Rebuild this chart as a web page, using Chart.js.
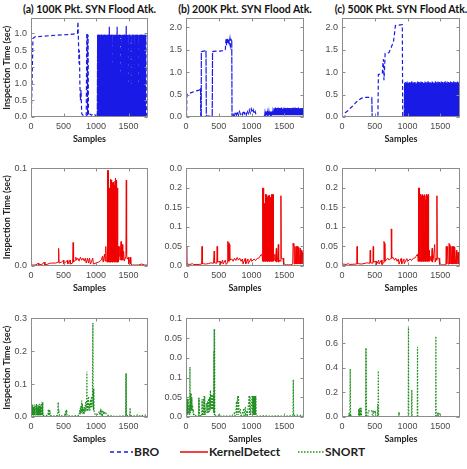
<!DOCTYPE html>
<html lang="en">
<head>
<meta charset="UTF-8">
<title>Inspection Time under SYN Flood</title>
<script src="https://cdn.jsdelivr.net/npm/chart.js"></script>
<style>
  body { margin:0; width:467px; height:469px; overflow:hidden; background:#fff; position:relative; }
  canvas { position:absolute; }
  .ttl { position:absolute; top:3px; width:170px; text-align:center; font:bold 10.5px Lato, sans-serif; color:#111; white-space:nowrap; line-height:12px; }
  .leg { position:absolute; top:445px; font:bold 12px Lato, sans-serif; color:#222; line-height:14px; white-space:nowrap; }
  .ls { position:absolute; top:450px; }
</style>
</head>
<body>
<div class="ttl" style="left:4.5px">(a) 100K Pkt. SYN Flood Atk.</div>
<div class="ttl" style="left:160px">(b) 200K Pkt. SYN Flood Atk.</div>
<div class="ttl" style="left:316px">(c) 500K Pkt. SYN Flood Atk.</div>

<svg class="ls" style="left:110px" width="23" height="4"><line x1="0" y1="2" x2="23" y2="2" stroke="#1a1ae6" stroke-width="1.5" stroke-dasharray="4 3"/></svg>
<div class="leg" style="left:134px">BRO</div>
<svg class="ls" style="left:180px" width="28" height="4"><line x1="0" y1="2" x2="28" y2="2" stroke="#f00000" stroke-width="1.5"/></svg>
<div class="leg" style="left:209px">KernelDetect</div>
<svg class="ls" style="left:298px" width="26" height="4"><line x1="0" y1="2" x2="26" y2="2" stroke="#1f8f1f" stroke-width="1.5" stroke-dasharray="1.5 1.5"/></svg>
<div class="leg" style="left:325px">SNORT</div>

<script>
// ---- data (sample index, inspection time) ----
const xMax = 1800;
const xTicks = [0, 500, 1000, 1500];

// tick labels as printed on each panel's y axis (bottom to top)
const yLabA1 = ['0.0', '0.5', '1.0', '0.0', '0.5', '1.0'];
const yLabB1 = ['0.0', '0.5', '1.0', '1.5', '2.0'];
const yLabC1 = ['0.0', '0.5', '1.0', '1.5', '2.0'];
const yLabA2 = ['0.0', '0.1'];
const yLabB2 = ['0.0', '0.05', '0.1', '0.15', '0.2', '0.0'];
const yLabC2 = ['0.0', '0.05', '0.1', '0.15', '0.2', '0.0'];
const yLabA3 = ['0.0', '0.1', '0.2', '0.3'];
const yLabB3 = ['0.0', '0.05', '0.1', '0.0', '0.05', '0.1'];
const yLabC3 = ['0.0', '0.2', '0.4', '0.6', '0.8'];

// BRO
const broA = [[0,0],[8,0.3],[30,2.35],[60,2.4],[200,2.42],[400,2.45],[600,2.47],[715,2.5],[722,2.85],[730,2.3],[738,1.6],[745,2.0],[752,1.0],[760,0.5],[770,0.8],[780,0.1],[800,0.05],[830,0.08],[850,0.05],[858,2.46],[866,2.48],[870,0.05],[878,2.46],[884,0.06],[900,0.1],[930,0.05],[960,0.1],[990,0.05],[1015,0.06]];
const broABlock = [2.46,2.45,2.47,2.46,2.44,2.46,2.47,2.45,2.46,2.46,
  2.45,2.47,2.46,2.44,2.46,2.45,2.46,2.47,2.7,2.46,
  2.45,2.46,2.47,1.5,2.46,2.45,2.46,2.44,2.46,2.47,
  2.7,2.46,2.45,2.46,2.47,2.46,1.2,2.45,2.46,2.46,
  2.45,2.47,2.46,2.45,2.72,2.46,2.45,1.0,2.46,2.47,
  2.46,2.45,0.9,2.46,2.47,2.45,2.46,1.4,2.46,2.45,
  2.46,2.47,2.45,1.0,2.46,2.45,2.46,2.47,2.46,2.45,
  2.46,2.45,2.46,2.44,2.46];
const broATail = [[1775,0.08],[1790,0.03],[1800,0.02]];

const broB = [[0,0],[8,0.02],[14,0.5],[40,0.52],[90,0.55],[150,0.58],[200,0.6],[222,0.64],[226,0.02],[232,0.02],[234,1.46],[270,1.47],[305,1.48],[310,0.02],[400,0.02],[405,1.46],[450,1.47],[520,1.47],[560,1.48],[600,1.5],[610,1.74],[620,1.6],[630,1.77],[640,1.62],[650,1.76],[660,1.65],[670,1.75],[680,1.6],[690,1.72],[698,1.7],[702,0.02],[715,0.01],[725,0.09],[740,0.03],[755,0.12],[770,0.05],[785,0.13],[800,0.04],[815,0.12],[830,0.06],[845,0.1],[860,0.05],[875,0.14],[890,0.07],[905,0.12],[920,0.05],[935,0.15],[950,0.08],[965,0.16],[980,0.09],[995,0.18],[1010,0.1],[1025,0.16],[1040,0.07],[1055,0.12],[1070,0.04],[1085,0.02],[1100,0.01],[1190,0.01]];
const broBBlock = [0.1,0.12,0.11,0.13,0.1,0.12,0.11,0.13,0.12,0.1,0.12,0.13,0.11,0.12,
  0.2,0.18,0.21,0.17,0.2,0.19,0.21,0.18,0.2,0.16,
  0.2,0.21,0.18,0.2,0.19,0.21,0.17,0.2,0.2,0.18,
  0.21,0.19,0.2,0.18,0.21,0.2,0.17,0.2,0.19,0.21,
  0.18,0.2,0.21,0.19,0.2,0.18,0.2,0.21,0.17,0.2,
  0.19,0.2,0.18,0.2,0.16];
const broBTail = [[1795,0.05],[1800,0.03]];

const broC = [[0,0],[45,0.01],[52,0.1],[90,0.14],[130,0.2],[175,0.26],[215,0.33],[255,0.38],[300,0.42],[350,0.44],[410,0.44],[455,0.44],[460,0.01],[548,0.01],[555,0.95],[590,0.96],[615,0.97],[625,1.22],[632,1.29],[640,0.82],[650,1.1],[658,1.42],[700,1.43],[718,1.44],[750,1.55],[785,1.68],[800,1.85],[815,2.04],[860,2.05],[920,2.06],[926,0.01],[945,0.02]];
const broCBlock = [0.76,0.78,0.75,0.77,0.79,0.76,0.74,0.78,0.77,0.75,
  0.78,0.8,0.76,0.77,0.75,0.79,0.78,0.76,0.74,0.77,
  0.79,0.76,0.78,0.75,0.77,0.8,0.76,0.78,0.77,0.75,
  0.76,0.79,0.77,0.74,0.78,0.76,0.8,0.77,0.75,0.78,
  0.77,0.76,0.79,0.78,0.75,0.77,0.76,0.8,0.78,0.74,
  0.77,0.79,0.76,0.78,0.75,0.77,0.79,0.76,0.78,0.77,
  0.75,0.78,0.8,0.76,0.77,0.79,0.75,0.78,0.76,0.77,
  0.79,0.74,0.78,0.77,0.76,0.8,0.75,0.78,0.77,0.76,
  0.78,0.79,0.76,0.77,0.75];

// KernelDetect
const kdA = [[0,0.001],[60,0.001],[100,0.002],[110,0.003],[120,0.001],[180,0.002],[200,0.004],[215,0.001],[260,0.002],[300,0.003],[380,0.003],[420,0.004],[425,0.018],[432,0.003],[470,0.004],[500,0.006],[505,0.002],[560,0.006],[565,0.002],[600,0.006],[605,0.002],[640,0.003],[648,0.024],[655,0.004],[680,0.006],[690,0.009],[700,0.006],[720,0.008],[740,0.005],[760,0.009],[780,0.006],[800,0.008],[820,0.005],[835,0.008],[850,0.003],[870,0.008],[885,0.003],[900,0.008],[915,0.002],[950,0.008],[960,0.002],[1000,0.003],[1040,0.004],[1080,0.006],[1100,0.01],[1110,0.004],[1130,0.012],[1140,0.005],[1150,0.02],[1158,0.006]];
const kdABlock = [0.098,0.098,0.097,0.095,0.098,0.08,0.04,0.06,0.03,0.089,0.087,0.07,0.088,0.085,0.05,0.086,0.084,0.06,0.083,0.04,0.087,0.089,0.09,0.06,0.088,0.03,0.08,0.045,0.02,0.015];
const kdATail = [[1355,0.01],[1365,0.02],[1372,0.006],[1385,0.025],[1392,0.006],[1405,0.022],[1412,0.006],[1425,0.015],[1435,0.005],[1460,0.01],[1466,0.088],[1471,0.012],[1480,0.007],[1500,0.009],[1505,0.002],[1530,0.009],[1535,0.002],[1560,0.001],[1650,0.001],[1700,0.002],[1750,0.001],[1800,0.001]];

const kdB = [[0,0.004],[5,0.05],[12,0.005],[60,0.004],[100,0.006],[110,0.004],[200,0.004],[240,0.005],[245,0.05],[250,0.006],[300,0.005],[340,0.006],[380,0.008],[420,0.007],[430,0.038],[436,0.008],[470,0.007],[475,0.05],[482,0.01],[520,0.012],[525,0.004],[560,0.015],[565,0.005],[600,0.015],[612,0.004],[632,0.008],[636,0.063],[645,0.06],[655,0.012],[662,0.055],[668,0.015],[700,0.018],[720,0.012],[740,0.02],[760,0.014],[780,0.022],[800,0.015],[820,0.02],[840,0.012],[860,0.018],[870,0.005],[900,0.019],[910,0.005],[945,0.018],[950,0.006],[990,0.019],[1000,0.012],[1040,0.018],[1060,0.014],[1090,0.02],[1110,0.02],[1130,0.025],[1150,0.03],[1162,0.025]];
const kdBBlock = [0.2,0.2,0.199,0.2,0.16,0.16,0.158,0.12,0.184,0.18,0.05,0.183,0.175,0.17,0.18,0.178,0.1,0.175,0.182,0.17,0.06,0.176,0.183,0.18,0.183,0.04,0.15,0.183,0.02];
const kdBTail = [[1345,0.015],[1355,0.03],[1365,0.012],[1378,0.045],[1383,0.01],[1395,0.015],[1408,0.055],[1414,0.01],[1430,0.015],[1444,0.012],[1448,0.18],[1453,0.02],[1470,0.018],[1480,0.02],[1490,0.004],[1510,0.003],[1560,0.003],[1600,0.003],[1628,0.005],[1633,0.058],[1645,0.05],[1650,0.005],[1660,0.05],[1668,0.005],[1680,0.05],[1688,0.005],[1700,0.05],[1708,0.005],[1720,0.048],[1728,0.005],[1740,0.045],[1748,0.005],[1760,0.04],[1768,0.005],[1780,0.035],[1788,0.005],[1796,0.028],[1800,0.028]];

const kdC = [[0,0.005],[3,0.11],[8,0.005],[60,0.004],[100,0.006],[110,0.004],[225,0.005],[230,0.05],[236,0.006],[300,0.005],[380,0.008],[425,0.007],[430,0.04],[436,0.008],[472,0.007],[476,0.05],[482,0.01],[520,0.012],[525,0.004],[560,0.015],[565,0.005],[600,0.015],[610,0.004],[636,0.008],[640,0.063],[648,0.058],[655,0.012],[700,0.02],[720,0.015],[748,0.02],[752,0.095],[758,0.02],[780,0.022],[800,0.015],[820,0.02],[840,0.012],[860,0.018],[870,0.005],[900,0.019],[910,0.005],[945,0.018],[950,0.006],[990,0.019],[1000,0.012],[1040,0.018],[1060,0.014],[1090,0.02],[1110,0.02],[1130,0.025],[1150,0.03],[1158,0.025]];
const kdCBlock = [0.2,0.2,0.2,0.199,0.2,0.17,0.05,0.184,0.18,0.17,0.183,0.06,0.175,0.18,0.172,0.1,0.183,0.178,0.17,0.04,0.18,0.184,0.175,0.06,0.18,0.183,0.15,0.03,0.04,0.02];
const kdCTail = [[1345,0.015],[1355,0.025],[1365,0.012],[1375,0.045],[1380,0.01],[1395,0.02],[1414,0.055],[1420,0.01],[1435,0.02],[1444,0.015],[1448,0.18],[1453,0.02],[1470,0.02],[1480,0.02],[1490,0.004],[1520,0.003],[1560,0.003],[1585,0.003],[1590,0.05],[1596,0.005],[1612,0.05],[1618,0.005],[1632,0.058],[1640,0.055],[1646,0.005],[1660,0.05],[1668,0.005],[1680,0.05],[1688,0.005],[1700,0.05],[1708,0.005],[1720,0.048],[1728,0.005],[1745,0.04],[1752,0.005],[1770,0.035],[1778,0.005],[1795,0.028],[1800,0.028]];

// SNORT
const snAWave = [0.02,0.03,0.038,0.036,0.03,0.025,0.038,0.034,0.028,0.036,0.04,0.032,0.026,0.038,0.035,0.03,0.04,0.036,0.03,0.038,0.042,0.045];
const snA = [[176,0.005],[177,0.045],[178,0.005],[179,0.045],[180,0.005],[181,0.045],[183,0.005],[210,0.004],[260,0.005],[268,0.022],[272,0.005],[276,0.023],[280,0.005],[284,0.023],[288,0.005],[292,0.02],[296,0.004],[360,0.003],[410,0.005],[418,0.045],[424,0.01],[430,0.015],[438,0.004],[500,0.003],[530,0.005],[535,0.02],[540,0.008],[548,0.022],[555,0.004],[640,0.003],[740,0.005],[750,0.02],[755,0.008],[760,0.03],[765,0.01],[770,0.035],[775,0.012],[780,0.05],[785,0.015],[790,0.04],[795,0.01],[800,0.03],[805,0.012],[810,0.025],[815,0.01],[825,0.03],[830,0.015],[840,0.045],[845,0.02],[855,0.035],[860,0.138],[864,0.02],[870,0.05],[875,0.02],[885,0.06],[890,0.025],[900,0.04],[905,0.02],[915,0.05],[920,0.03],[930,0.06],[935,0.03],[945,0.06],[952,0.286],[956,0.03],[958,0.087],[960,0.02],[962,0.087],[964,0.02],[966,0.087],[970,0.02],[980,0.01],[1000,0.006],[1040,0.01],[1050,0.017],[1060,0.006],[1070,0.018],[1080,0.008],[1090,0.017],[1100,0.007],[1110,0.018],[1120,0.008],[1140,0.016],[1155,0.01],[1170,0.006],[1200,0.004],[1300,0.002],[1400,0.003],[1456,0.004],[1458,0.133],[1460,0.004],[1462,0.133],[1464,0.004],[1466,0.133],[1468,0.004],[1520,0.004],[1525,0.028],[1530,0.004],[1600,0.003],[1640,0.006],[1660,0.003],[1700,0.006],[1720,0.004],[1760,0.006],[1800,0.004]];

const snB = [[0,0.003],[10,0.004],[15,0.046],[20,0.005],[25,0.046],[30,0.006],[35,0.046],[40,0.01],[50,0.03],[56,0.005],[60,0.127],[65,0.01],[70,0.06],[75,0.015],[80,0.06],[85,0.02],[90,0.05],[95,0.015],[100,0.03],[105,0.01],[110,0.02],[115,0.005],[130,0.008],[150,0.003],[190,0.003],[194,0.049],[198,0.003],[202,0.049],[206,0.003],[240,0.004],[245,0.045],[250,0.005],[265,0.045],[270,0.005],[278,0.053],[282,0.005],[286,0.053],[290,0.005],[315,0.035],[320,0.01],[330,0.04],[335,0.01],[345,0.045],[350,0.012],[360,0.05],[366,0.015],[372,0.068],[378,0.02],[385,0.055],[390,0.02],[400,0.055],[405,0.02],[415,0.055],[420,0.01],[424,0.168],[428,0.01],[430,0.223],[433,0.005],[436,0.223],[440,0.003],[460,0.003],[500,0.005],[510,0.002],[600,0.002],[700,0.003],[735,0.01],[745,0.003],[760,0.01],[770,0.038],[775,0.005],[780,0.038],[790,0.053],[795,0.005],[800,0.053],[810,0.01],[830,0.02],[835,0.003],[850,0.005],[880,0.02],[885,0.003],[905,0.025],[910,0.003],[930,0.015],[935,0.003],[965,0.053],[970,0.005],[975,0.053],[980,0.04],[985,0.005],[1010,0.053],[1014,0.005],[1018,0.053],[1022,0.005],[1026,0.053],[1030,0.005],[1034,0.053],[1038,0.005],[1042,0.053],[1046,0.005],[1050,0.053],[1054,0.005],[1058,0.053],[1062,0.005],[1066,0.053],[1070,0.005],[1075,0.002],[1200,0.003],[1300,0.002],[1400,0.003],[1500,0.002],[1600,0.003],[1632,0.004],[1637,0.095],[1642,0.004],[1660,0.004],[1700,0.005],[1760,0.004],[1800,0.005]];

const snC = [[0,0.002],[100,0.002],[105,0.03],[110,0.002],[115,0.03],[120,0.002],[126,0.39],[130,0.002],[135,0.02],[140,0.002],[250,0.002],[256,0.065],[262,0.002],[268,0.07],[274,0.002],[280,0.074],[286,0.002],[292,0.074],[298,0.002],[360,0.002],[364,0.56],[367,0.002],[370,0.56],[373,0.002],[395,0.002],[398,0.05],[460,0.05],[463,0.002],[476,0.002],[480,0.05],[490,0.04],[500,0.05],[510,0.04],[515,0.002],[540,0.002],[545,0.105],[548,0.002],[551,0.105],[554,0.375],[558,0.002],[600,0.002],[865,0.002],[868,0.04],[871,0.002],[874,0.04],[877,0.002],[1010,0.002],[1014,0.735],[1018,0.002],[1060,0.002],[1065,0.22],[1070,0.002],[1148,0.002],[1152,0.57],[1156,0.002],[1428,0.002],[1432,0.655],[1436,0.002],[1450,0.002],[1455,0.03],[1460,0.002],[1465,0.04],[1470,0.002],[1480,0.03],[1485,0.002],[1600,0.002],[1800,0.002]];

// dense stretches: one up-and-down stroke per recorded peak
function zigzag(start, step, floor, peaks) {
  return peaks.flatMap((p, i) => [[start + i * step, floor], [start + i * step + step / 2, p]]);
}

// ---- layout ----
const cols = [{left: 0, yw: 31, w: 117}, {left: 150, yw: 36, w: 118}, {left: 305, yw: 37, w: 118}];
const rows = [{top: 15, h: 102}, {top: 165, h: 101}, {top: 315, h: 102}];
const padTop = 6, xAxisH = 27;
const tickFont = {family: '"Liberation Sans", Arial, sans-serif', size: 9};
const tickColor = '#4a4a4a';

// denseDash: dash used where strokes are packed tightly (reads as near-solid)
const bro = {color: '#1a1ae6', width: 1.2, dash: [4, 2.5], denseDash: [7, 1]};
const kd = {color: '#f00000', width: 1, dash: [], denseDash: []};
const sn = {color: '#1f8f1f', width: 1.2, dash: [1.5, 1.5], denseDash: [1.5, 1.5]};

// box around plot + inward tick marks, like the original figure
const frame = {
  id: 'frame',
  afterDatasetsDraw(chart) {
    const {ctx, chartArea: a, scales} = chart;
    ctx.save();
    ctx.strokeStyle = '#8c8c8c';
    ctx.lineWidth = 1;
    const L = Math.round(a.left) + 0.5, R = Math.round(a.right) - 0.5;
    const T = Math.round(a.top) + 0.5, B = Math.round(a.bottom) - 0.5;
    ctx.strokeRect(L, T, R - L, B - T);
    ctx.beginPath();
    scales.x.ticks.forEach(t => {
      const px = Math.round(scales.x.getPixelForValue(t.value)) + 0.5;
      ctx.moveTo(px, B); ctx.lineTo(px, B - 3);
      ctx.moveTo(px, T); ctx.lineTo(px, T + 3);
    });
    scales.y.ticks.forEach(t => {
      const py = Math.round(scales.y.getPixelForValue(t.value)) + 0.5;
      ctx.moveTo(L, py); ctx.lineTo(L + 3, py);
      ctx.moveTo(R, py); ctx.lineTo(R - 3, py);
    });
    ctx.stroke();
    ctx.restore();
  }
};

function panel(r, c, pts, style, yMax, yStep, yLabels) {
  const col = cols[c], row = rows[r];
  const cv = document.createElement('canvas');
  cv.width = col.yw + col.w + 5;
  cv.height = padTop + row.h + xAxisH;
  cv.style.left = col.left + 'px';
  cv.style.top = (row.top - padTop) + 'px';
  document.body.appendChild(cv);

  new Chart(cv, {
    type: 'scatter',
    data: {
      datasets: [{
        data: pts.map(p => ({x: p[0], y: p[1]})),
        showLine: true,
        pointRadius: 0,
        borderColor: style.color,
        borderWidth: style.width,
        borderDash: style.dash,
        segment: {
          borderDash: s => (s.p1.parsed.x - s.p0.parsed.x) <= 5 ? style.denseDash : undefined
        },
        tension: 0
      }]
    },
    options: {
      responsive: false,
      animation: false,
      devicePixelRatio: 1,
      layout: {padding: {top: padTop, right: 5, left: 0, bottom: 0}},
      plugins: {legend: {display: false}, tooltip: {enabled: false}},
      scales: {
        x: {
          type: 'linear', min: 0, max: xMax,
          grid: {display: false, drawTicks: false},
          border: {display: false},
          ticks: {padding: 4, color: tickColor, font: tickFont, maxRotation: 0, callback: v => String(v)},
          afterBuildTicks: s => { s.ticks = xTicks.map(v => ({value: v})); },
          title: {display: true, text: 'Samples', color: '#222', font: {family: 'Lato', weight: 'bold', size: 9}, padding: {top: 0, bottom: 0}},
          afterFit: s => { s.height = xAxisH; }
        },
        y: {
          type: 'linear', min: 0, max: yMax,
          grid: {display: false, drawTicks: false},
          border: {display: false},
          ticks: {padding: 4, color: tickColor, font: tickFont, callback: (v, i) => yLabels[i]},
          afterBuildTicks: s => { s.ticks = yLabels.map((_, i) => ({value: i * yStep})); },
          title: {display: c === 0, text: 'Inspection Time (sec)', color: '#222', font: {family: 'Lato', weight: 'bold', size: 9}, padding: {top: 2, bottom: 0}},
          afterFit: s => { s.width = col.yw; }
        }
      }
    },
    plugins: [frame]
  });
}

panel(0, 0, [...broA, ...zigzag(1020, 10, 0.02, broABlock), ...broATail], bro, 2.95, 0.5, yLabA1);
panel(0, 1, [...broB, ...zigzag(1200, 10, 0.04, broBBlock), ...broBTail], bro, 2.2, 0.5, yLabB1);
panel(0, 2, [...broC, ...zigzag(950, 10, 0.02, broCBlock)], bro, 2.2, 0.5, yLabC1);

panel(1, 0, [...kdA, ...zigzag(1170, 6, 0.004, kdABlock), ...kdATail], kd, 0.1, 0.1, yLabA2);
panel(1, 1, [...kdB, ...zigzag(1165, 6, 0.012, kdBBlock), ...kdBTail], kd, 0.25, 0.05, yLabB2);
panel(1, 2, [...kdC, ...zigzag(1160, 6, 0.012, kdCBlock), ...kdCTail], kd, 0.25, 0.05, yLabC2);

panel(2, 0, [...zigzag(0, 8, 0.005, snAWave), ...snA], sn, 0.3, 0.1, yLabA3);
panel(2, 1, snB, sn, 0.25, 0.05, yLabB3);
panel(2, 2, snC, sn, 0.8, 0.2, yLabC3);
</script>
</body>
</html>
